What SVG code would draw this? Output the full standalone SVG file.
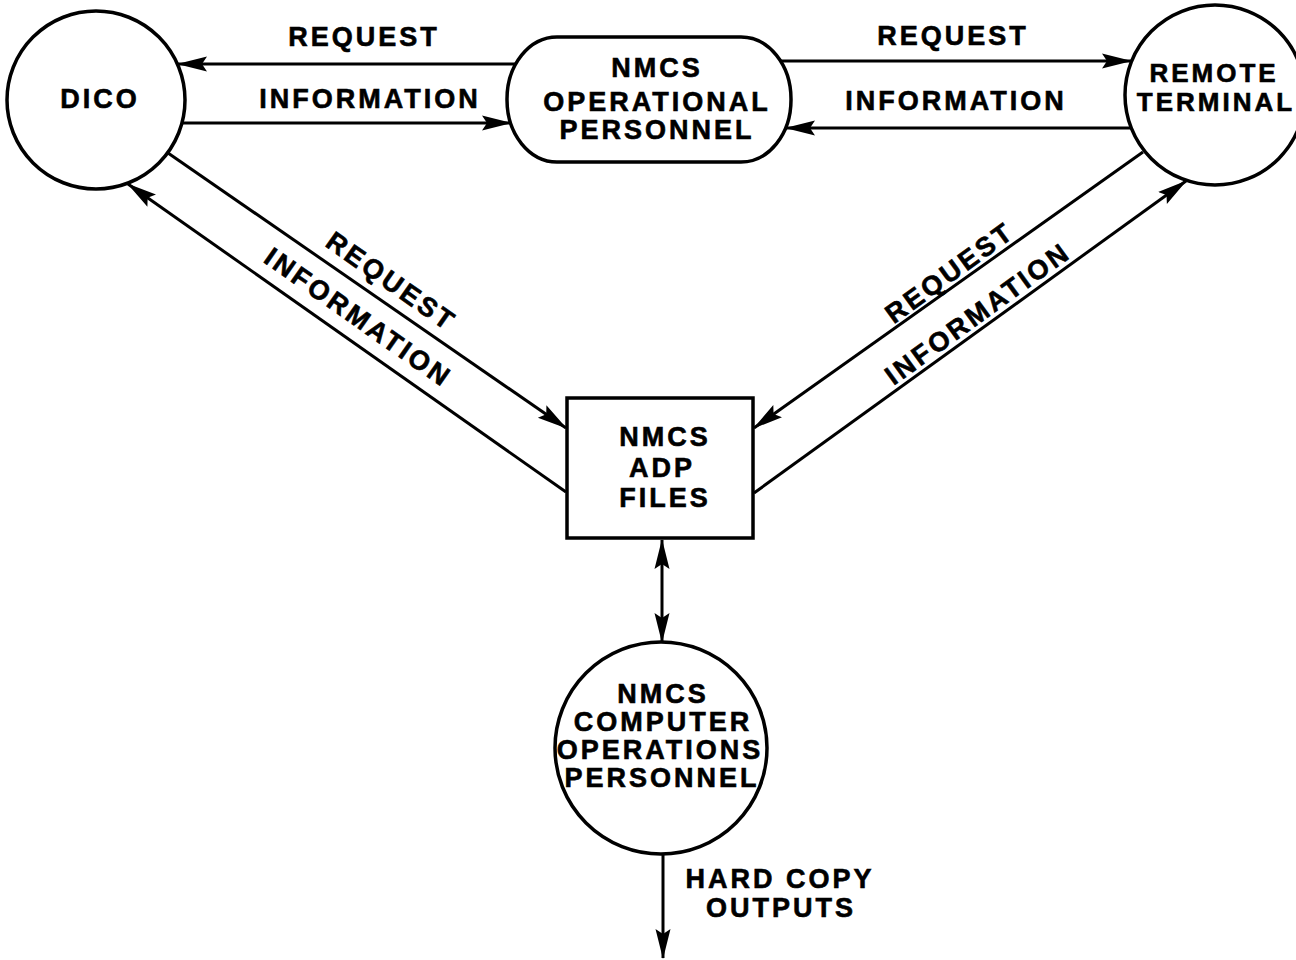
<svg xmlns="http://www.w3.org/2000/svg" width="1296" height="960" viewBox="0 0 1296 960">
<style>
.t{font-family:"Liberation Sans",Arial,sans-serif;font-weight:bold;font-size:27px;letter-spacing:3px;fill:#000;stroke:#000;stroke-width:0.6px;text-anchor:middle}
.s{font-size:26px}
.n{fill:#fff;stroke:#000;stroke-width:3.5}
.c{fill:none;stroke:#000;stroke-width:3}
</style>
<defs>
<marker id="ah" viewBox="0 0 30 17" refX="29" refY="8.5" markerWidth="30" markerHeight="17" markerUnits="userSpaceOnUse" orient="auto-start-reverse">
<path d="M0,1 L30,8.5 L0,16 L5,8.5 Z" fill="#000"/>
</marker>
</defs>
<rect width="1296" height="960" fill="#fff"/>
<g id="connectors">
<line class="c" x1="516" y1="64" x2="178" y2="64" marker-end="url(#ah)"/>
<line class="c" x1="182" y1="123" x2="511" y2="123" marker-end="url(#ah)"/>
<line class="c" x1="780" y1="61" x2="1131" y2="61" marker-end="url(#ah)"/>
<line class="c" x1="1131" y1="128" x2="786" y2="128" marker-end="url(#ah)"/>
<line class="c" x1="168" y1="153" x2="566" y2="428" marker-end="url(#ah)"/>
<line class="c" x1="566" y1="492" x2="128" y2="184" marker-end="url(#ah)"/>
<line class="c" x1="1143" y1="152" x2="754" y2="428" marker-end="url(#ah)"/>
<line class="c" x1="754" y1="493" x2="1186" y2="181" marker-end="url(#ah)"/>
<line class="c" x1="662" y1="540" x2="662" y2="642" marker-start="url(#ah)" marker-end="url(#ah)"/>
<line class="c" x1="663" y1="853" x2="663" y2="958" marker-end="url(#ah)"/>
<text class="t" x="364" y="46">REQUEST</text>
<text class="t" x="370" y="108">INFORMATION</text>
<text class="t" x="953" y="45">REQUEST</text>
<text class="t" x="956" y="110">INFORMATION</text>
<text class="t" transform="translate(386,289) rotate(35)">REQUEST</text>
<text class="t" transform="translate(353,325) rotate(35)">INFORMATION</text>
<text class="t" transform="translate(955,280) rotate(-36)">REQUEST</text>
<text class="t" transform="translate(983,321) rotate(-36)">INFORMATION</text>
<text class="t" x="780" y="888">HARD COPY</text>
<text class="t" x="781" y="917">OUTPUTS</text>
</g>
<g id="dico">
<circle class="n" cx="96" cy="100" r="89"/>
<text class="t" x="100" y="108">DICO</text>
</g>
<g id="nmcs-operational-personnel">
<rect class="n" x="507" y="37" width="284" height="125" rx="50" ry="62"/>
<text class="t" x="657" y="77">NMCS</text>
<text class="t" x="657" y="111">OPERATIONAL</text>
<text class="t" x="657" y="139">PERSONNEL</text>
</g>
<g id="remote-terminal">
<circle class="n" cx="1215" cy="95" r="90"/>
<text class="t s" x="1214" y="82">REMOTE</text>
<text class="t s" x="1216" y="111">TERMINAL</text>
</g>
<g id="nmcs-adp-files">
<rect class="n" x="567" y="398" width="186" height="140"/>
<text class="t" x="665" y="446">NMCS</text>
<text class="t" x="662" y="477">ADP</text>
<text class="t" x="665" y="507">FILES</text>
</g>
<g id="nmcs-computer-operations-personnel">
<circle class="n" cx="661" cy="748" r="106"/>
<text class="t" x="663" y="703">NMCS</text>
<text class="t" x="663" y="731">COMPUTER</text>
<text class="t" x="660" y="759">OPERATIONS</text>
<text class="t" x="662" y="787">PERSONNEL</text>
</g>
</svg>
